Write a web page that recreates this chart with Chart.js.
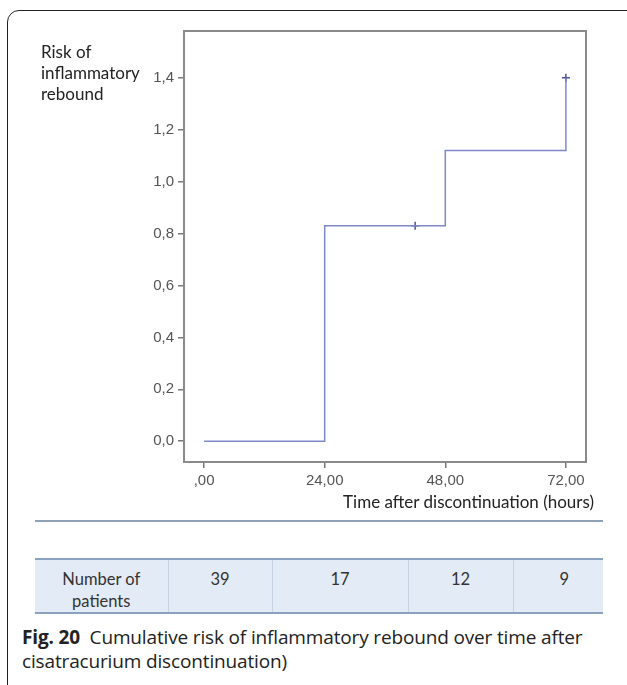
<!DOCTYPE html>
<html>
<head>
<meta charset="utf-8">
<script src="https://cdn.jsdelivr.net/npm/chart.js@4/dist/chart.umd.min.js"></script>
<style>
  html, body { margin:0; padding:0; background:#fff; }
  body { width:627px; height:685px; position:relative; overflow:hidden; }
  #frame { position:absolute; left:7px; top:10px; width:640px; height:690px;
           border:1.5px solid #222; border-radius:12px; box-sizing:border-box; }
  #wrap { position:absolute; left:0; top:0; width:627px; height:520px; }
  .ytitle { position:absolute; left:41px; top:41px; font-family:Lato, sans-serif; font-size:17px;
            line-height:21px; color:#222; }
  .xtitle { position:absolute; right:33px; top:491px; font-family:Lato, sans-serif; font-size:17px; color:#222; white-space:nowrap; }
  #sep { position:absolute; left:35px; top:520px; width:568px; height:0; border-top:2px solid #8ea2b6; }
  table { position:absolute; left:35px; top:558px; width:568px; border-collapse:collapse;
          font-family:Lato, sans-serif; font-size:16.5px; color:#333; background:#e3ebf6; }
  td { text-align:center; vertical-align:top; height:51px; box-sizing:border-box; padding:8px 0 0 0; line-height:22px; border-left:1px solid #c6d3e3; }
  td:first-child { border-left:none; }
  td:last-child { padding-left:12px; }
  tr { border-top:2px solid #8aa2bf; border-bottom:2px solid #8aa2bf; }
  #cap { position:absolute; left:22px; top:625px; font-family:"Open Sans", sans-serif; font-size:19px;
         line-height:24px; color:#222; letter-spacing:-0.15px; }
  #cap b { font-weight:700; }
</style>
</head>
<body>
<div id="frame"></div>
<div id="wrap"><canvas id="c" width="627" height="520"></canvas></div>
<div class="ytitle">Risk of<br>inflammatory<br>rebound</div>
<div class="xtitle">Time after discontinuation (hours)</div>
<div id="sep"></div>
<table id="tbl"><tr id="row"></tr></table>
<div id="cap"><b>Fig. 20</b>&nbsp; Cumulative risk of inflammatory rebound over time after<br>cisatracurium discontinuation)</div>
<script>
// ---- data ----
const stepTimes = [0, 24, 48, 72];
const stepRisk  = [0, 0.83, 1.12, 1.40];
const censorTimes = [42, 72];
const censorRisk  = [0.83, 1.40];
const xTickValues = [0, 24, 48, 72];
const xTickLabels = [",00", "24,00", "48,00", "72,00"];
const yTickValues = [0, 0.2, 0.4, 0.6, 0.8, 1.0, 1.2, 1.4];
const yTickLabels = ["0,0", "0,2", "0,4", "0,6", "0,8", "1,0", "1,2", "1,4"];
const tableHeader = "Number of<br>patients";
const patientsAtRisk = [39, 17, 12, 9];

// ---- table ----
const row = document.getElementById('row');
const widths = [133, 104, 136, 105, 90];
[tableHeader].concat(patientsAtRisk.map(String)).forEach((t, i) => {
  const td = document.createElement('td');
  td.innerHTML = t; td.style.width = widths[i] + 'px';
  row.appendChild(td);
});

// ---- chart ----
const framePlugin = {
  id: 'frame',
  afterDraw(chart) {
    const a = chart.chartArea, ctx = chart.ctx;
    ctx.save();
    ctx.strokeStyle = '#8a8a8a';
    ctx.lineWidth = 2;
    ctx.strokeRect(a.left, a.top, a.right - a.left, a.bottom - a.top);
    ctx.restore();
  }
};

new Chart(document.getElementById('c'), {
  type: 'line',
  data: {
    datasets: [
      {
        data: stepTimes.map((t, i) => ({x: t, y: stepRisk[i]})),
        stepped: 'before',
        borderColor: '#7f88c9',
        borderWidth: 1.5,
        pointRadius: 0,
        fill: false
      },
      {
        data: censorTimes.map((t, i) => ({x: t, y: censorRisk[i]})),
        showLine: false,
        pointStyle: 'cross',
        pointRadius: 4,
        borderColor: '#4b519c',
        borderWidth: 1.5
      }
    ]
  },
  options: {
    responsive: false,
    animation: false,
    events: [],
    layout: { padding: { left: 0, top: 31, right: 41, bottom: 0 } },
    plugins: { legend: { display: false }, tooltip: { enabled: false } },
    scales: {
      x: {
        type: 'linear', min: -4, max: 76,
        afterBuildTicks: s => { s.ticks = xTickValues.map(v => ({value: v})); },
        afterFit: s => { s.height = 58; },
        border: { display: false },
        grid: { drawOnChartArea: false, drawTicks: true, tickLength: 6, tickColor: '#777', lineWidth: 1.5 },
        ticks: {
          padding: 4, color: '#555', maxRotation: 0, autoSkip: false,
          font: { family: 'Liberation Sans, Arial, sans-serif', size: 15 },
          callback: v => xTickLabels[xTickValues.indexOf(v)]
        }
      },
      y: {
        type: 'linear', min: -0.08, max: 1.58,
        afterBuildTicks: s => { s.ticks = yTickValues.map(v => ({value: v})); },
        afterFit: s => { s.width = 184; },
        border: { display: false },
        grid: { drawOnChartArea: false, drawTicks: true, tickLength: 6, tickColor: '#777', lineWidth: 1.5 },
        ticks: {
          padding: 4, color: '#555', autoSkip: false,
          font: { family: 'Liberation Sans, Arial, sans-serif', size: 15 },
          callback: v => { const i = yTickValues.findIndex(t => Math.abs(t - v) < 1e-9); return yTickLabels[i]; }
        }
      }
    }
  },
  plugins: [framePlugin]
});
</script>
</body>
</html>
